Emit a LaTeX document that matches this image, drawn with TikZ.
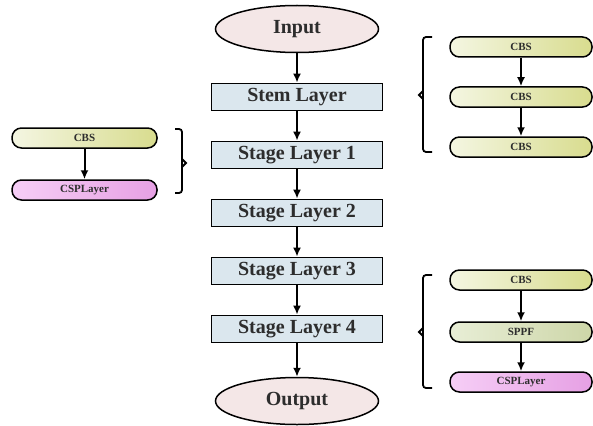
\documentclass[tikz,border=0pt]{standalone}
\usepackage{fontspec}
\setmainfont{Liberation Serif}
\usepackage{tikz}
\usetikzlibrary{arrows.meta,shapes.geometric}
\definecolor{boxblue}{RGB}{219,231,238}
\definecolor{termpink}{RGB}{244,231,231}
\definecolor{cbsleft}{RGB}{244,246,226}
\definecolor{cbsright}{RGB}{216,220,142}
\definecolor{sppfleft}{RGB}{232,238,214}
\definecolor{sppfright}{RGB}{205,214,168}
\definecolor{cspleft}{RGB}{246,206,246}
\definecolor{cspright}{RGB}{230,160,228}
\definecolor{txt}{RGB}{45,45,45}
\tikzstyle{layer} = [draw,line width=1.8pt,fill=boxblue,minimum width=171pt,minimum height=27pt,
  text=txt,font=\fontsize{20}{22}\selectfont\bfseries,node distance=58pt]
\tikzstyle{term} = [draw,line width=1.5pt,fill=termpink,shape=ellipse,minimum width=163pt,minimum height=47pt,
  text=txt,font=\fontsize{20}{22}\selectfont\bfseries]
\tikzstyle{pill} = [draw,line width=1.5pt,rounded corners=9.5pt,minimum height=20pt,
  text=txt,font=\fontsize{11}{12}\selectfont\bfseries,node distance=50pt]
\tikzstyle{cbs} = [pill,left color=cbsleft,right color=cbsright]
\tikzstyle{sppf} = [pill,left color=sppfleft,right color=sppfright]
\tikzstyle{csp} = [pill,left color=cspleft,right color=cspright]
\tikzstyle{flow} = [-{Latex[length=9pt,width=8pt]},line width=2pt]
\tikzstyle{bracket} = [line width=1.8pt,rounded corners=3pt]
\tikzstyle{tip} = [line width=1.8pt]

\begin{document}
\begin{tikzpicture}[x=1pt,y=-1pt]
\useasboundingbox (0,0) rectangle (593,425);

\node[term] (input) at (297,29) {Input};
\node[layer] (stem)   at (297,97) {Stem Layer};
\node[layer,below of=stem]   (stage1) {Stage Layer 1};
\node[layer,below of=stage1] (stage2) {Stage Layer 2};
\node[layer,below of=stage2] (stage3) {Stage Layer 3};
\node[layer,below of=stage3] (stage4) {Stage Layer 4};
\node[term] (output) at (297,401) {Output};

\draw[flow] (input) -- (stem);
\draw[flow] (stem) -- (stage1);
\draw[flow] (stage1) -- (stage2);
\draw[flow] (stage2) -- (stage3);
\draw[flow] (stage3) -- (stage4);
\draw[flow] (stage4) -- (output);

% left group
\node[cbs,minimum width=145pt] (lcbs) at (84.5,138) {CBS};
\node[csp,minimum width=145pt,below of=lcbs,node distance=52pt] (lcsp) {CSPLayer};
\draw[flow] (lcbs) -- (lcsp);
\draw[bracket] (175,129) -- (182,129) -- (182,193) -- (175,193);
\draw[tip] (182,159) -- (186,163) -- (182,167);

% right top group
\node[cbs,minimum width=142pt] (rcbs1) at (521,47) {CBS};
\node[cbs,minimum width=142pt,below of=rcbs1] (rcbs2) {CBS};
\node[cbs,minimum width=142pt,below of=rcbs2] (rcbs3) {CBS};
\draw[flow] (rcbs1) -- (rcbs2);
\draw[flow] (rcbs2) -- (rcbs3);
\draw[bracket] (432,37) -- (423,37) -- (423,152) -- (432,152);
\draw[tip] (423,91) -- (419,95) -- (423,99);

% right bottom group
\node[cbs,minimum width=142pt] (rcbs4) at (521,280) {CBS};
\node[sppf,minimum width=142pt,below of=rcbs4,node distance=52pt] (rsppf) {SPPF};
\node[csp,minimum width=142pt,below of=rsppf] (rcsp) {CSPLayer};
\draw[flow] (rcbs4) -- (rsppf);
\draw[flow] (rsppf) -- (rcsp);
\draw[bracket] (432,275) -- (423,275) -- (423,388) -- (432,388);
\draw[tip] (423,328) -- (419,332) -- (423,336);
\end{tikzpicture}
\end{document}
